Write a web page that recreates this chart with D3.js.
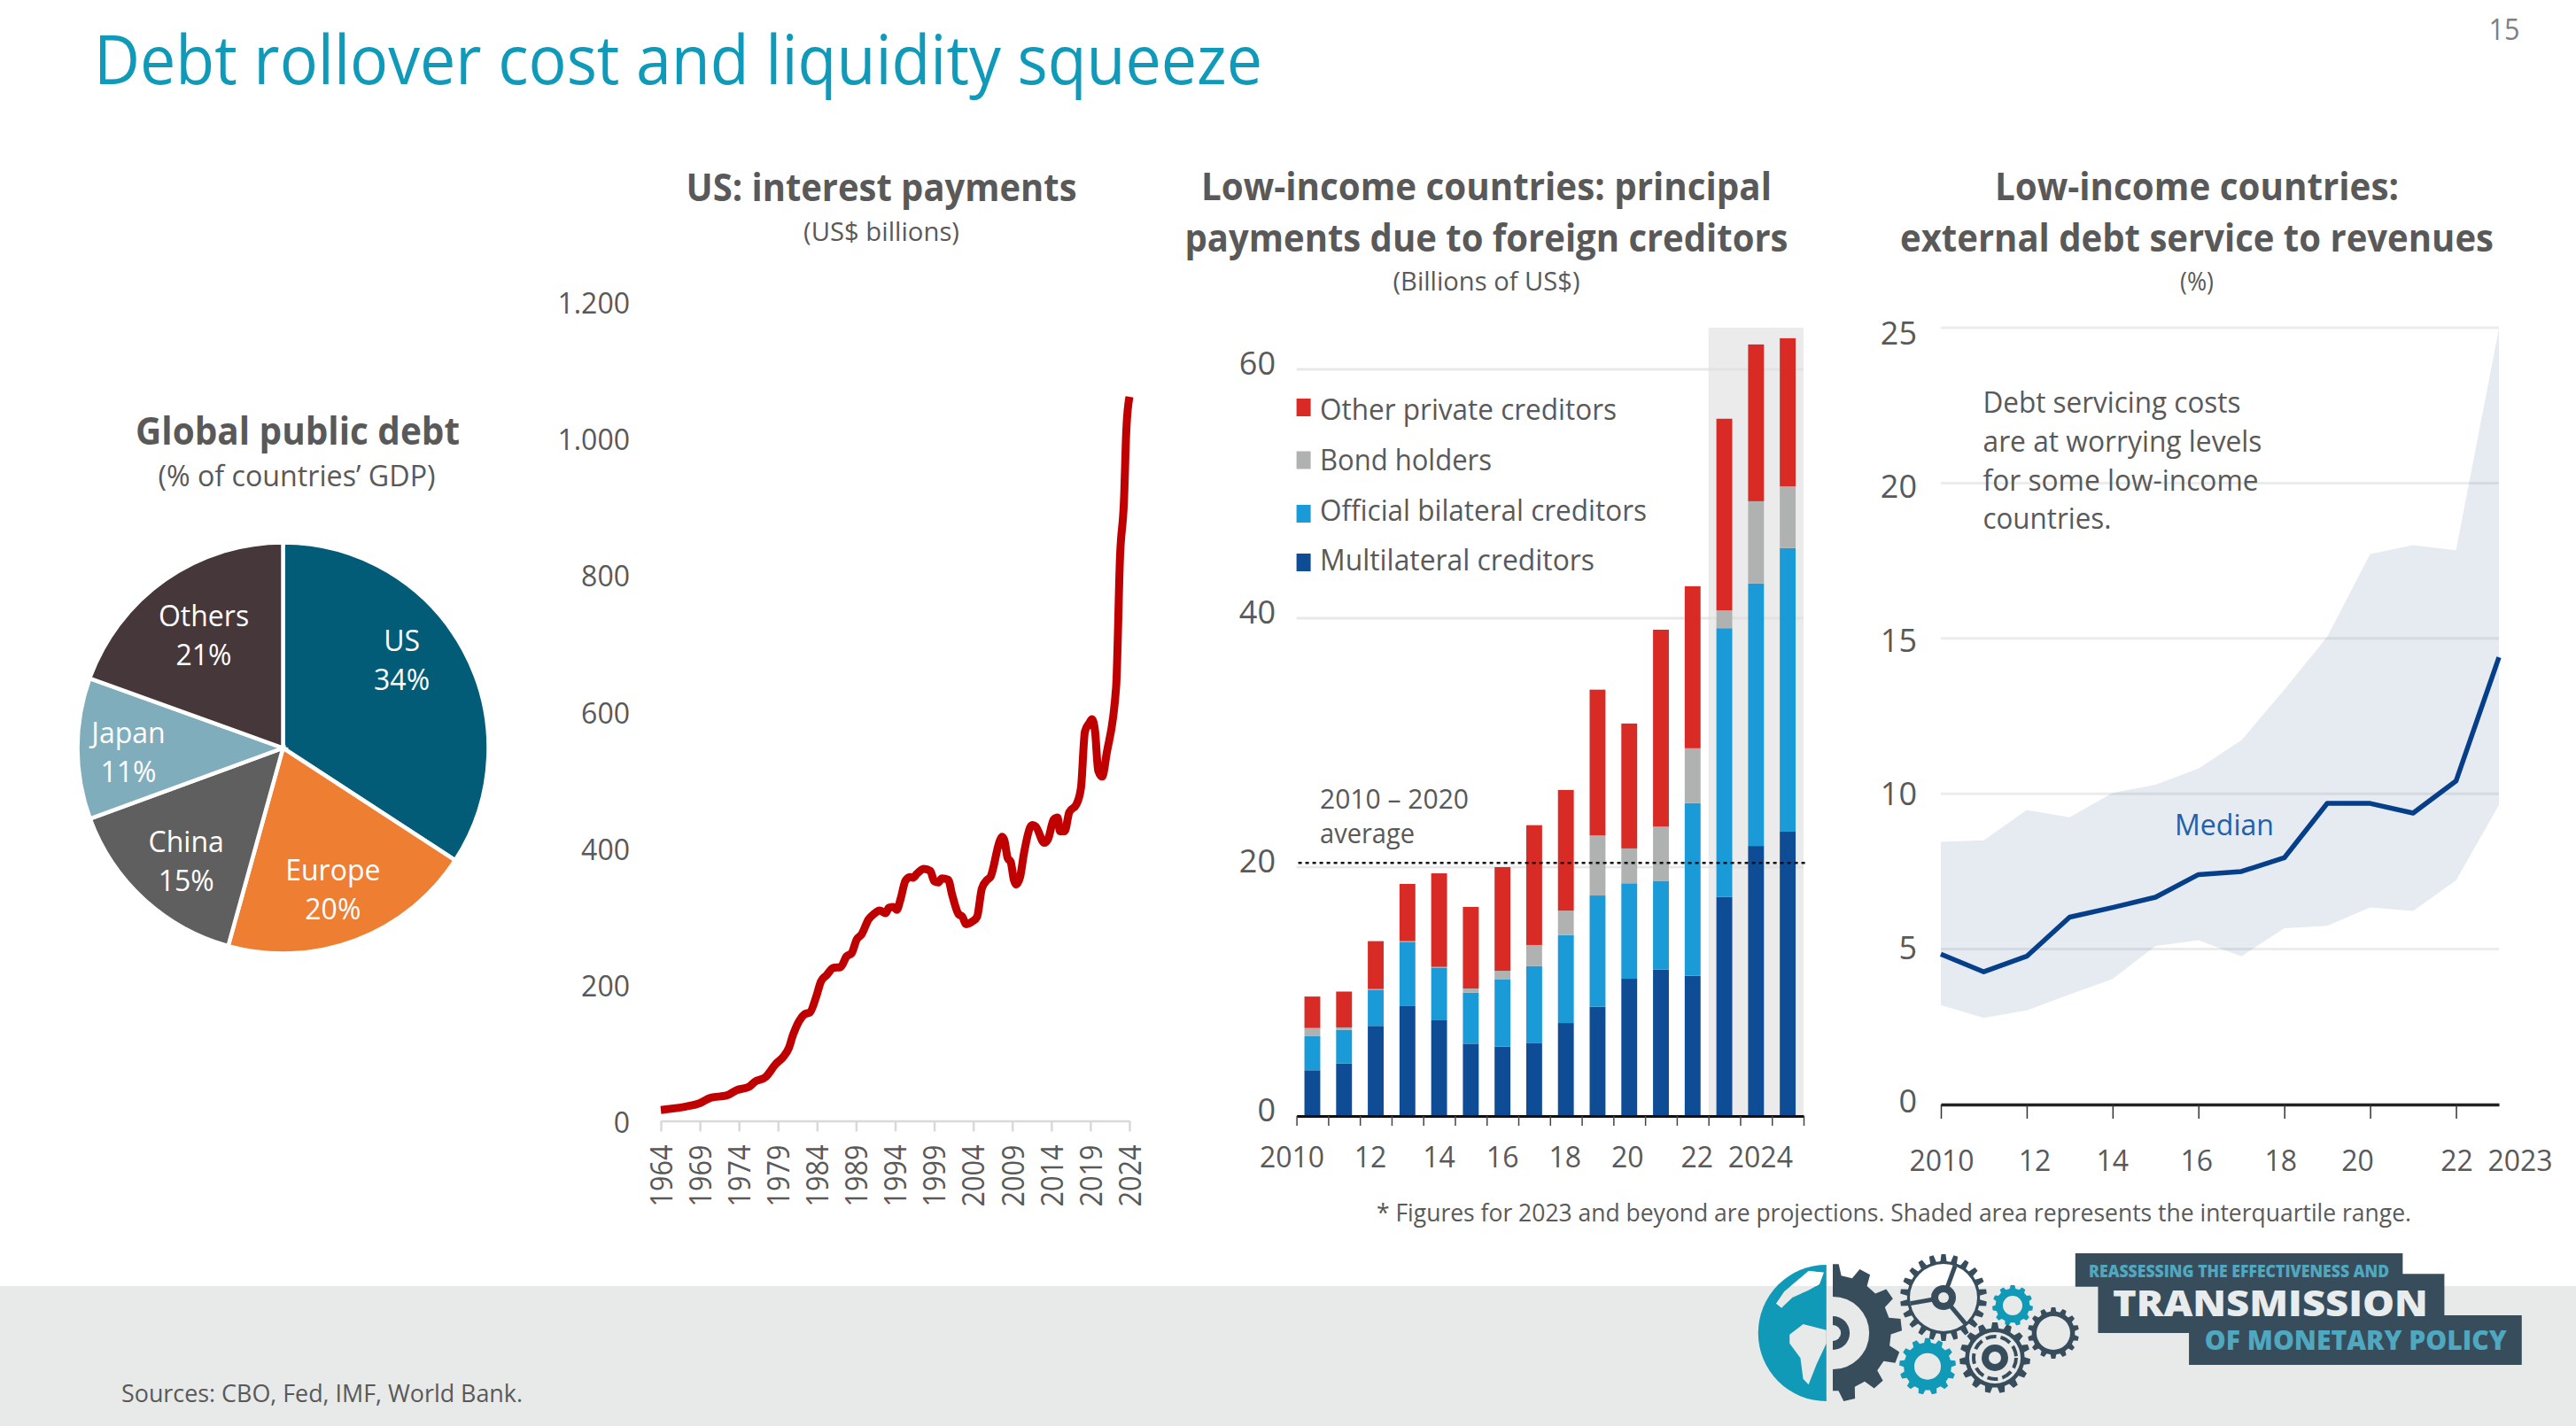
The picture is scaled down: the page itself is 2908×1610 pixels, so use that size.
<!DOCTYPE html>
<html><head><meta charset="utf-8">
<script src="https://cdn.jsdelivr.net/npm/d3@7/dist/d3.min.js"></script>
<style>html,body{margin:0;padding:0;background:#fff}svg{display:block}text{font-family:"Open Sans",sans-serif}</style>
</head><body><svg id="c" width="2908" height="1610"></svg>
<script>
// ---------- DATA ----------
const pieNames=["US","Europe","China","Japan","Others"];
const pieValues=[34.2,20.1,15.1,11.1,19.5];   // slice sizes as drawn
const pieLabels=["34%","20%","15%","11%","21%"]; // printed labels
const pieColors=["#035C77","#EE7E32","#5F5F5F","#80ADBC","#45373A"];

const interestYears=[1964,1967.2,1969,1970.4,1972.4,1973.7,1975.3,1976,1977.4,1978.7,1979.7,1980.4,1980.9,1981.7,1982.4,1983.1,1983.9,1984.5,1985.2,1986.1,1987,1987.8,1988.4,1989.1,1989.7,1990.6,1991.3,1992,1992.8,1993.2,1993.8,1994.2,1994.7,1995.3,1995.9,1996.3,1996.8,1997.7,1998.5,1999,1999.5,2000,2000.8,2001.3,2002.1,2002.6,2003.1,2003.9,2004.5,2005.1,2005.8,2006.2,2007.4,2007.7,2008,2008.4,2008.8,2009.2,2009.5,2010,2010.5,2011.3,2011.6,2012,2013.1,2013.6,2014.3,2014.8,2015.1,2015.7,2016.3,2017.2,2017.8,2018.3,2018.9,2019.2,2019.6,2020,2020.5,2021.1,2022.3,2022.8,2023.3,2023.6,2024];
const interestValues=[16,21,26,34,37,45,50,57,64,83,94,107,125,146,156,159,182,204,213,224,225,241,245,266,273,295,303,308,304,312,313,309,325,351,357,356,362,369,366,351,349,355,353,331,303,299,288,292,299,340,353,357,410,416,410,385,379,353,346,357,392,430,433,431,407,413,441,444,424,424,452,463,488,570,583,588,570,513,504,539,636,827,908,1011,1060];
const interestTicks=d3.range(1964,2025,5);

const barYears=d3.range(2010,2026);
const multilateral=[3.68,4.22,7.24,8.83,7.69,5.81,5.58,5.88,7.47,8.78,11.03,11.77,11.27,17.6,21.7,22.85];
const officialBilateral=[2.73,2.71,2.91,5.17,4.24,4.11,5.42,6.17,7.07,8.94,7.67,7.13,13.88,21.6,21.1,22.79];
const bondHolders=[0.66,0.19,0.05,0.05,0.05,0.33,0.67,1.69,1.96,4.82,2.8,4.35,4.4,1.44,6.6,4.96];
const otherPrivate=[2.53,2.88,3.85,4.6,7.52,6.55,8.33,9.63,9.7,11.72,10.04,15.83,13.02,15.39,12.6,11.9];
const barSeriesNames=["Multilateral creditors","Official bilateral creditors","Bond holders","Other private creditors"];
const barColors=["#0E4D96","#1A9BD7","#B0B2B1","#D92B26"];
const barTickYears=[2010,2012,2014,2016,2018,2020,2022,2024];
const barTickLabels=["2010","12","14","16","18","20","22","2024"];
const average2010to2020=20.33;

const serviceYears=d3.range(2010,2024);
const serviceMedian=[4.84,4.27,4.77,6.03,6.34,6.67,7.4,7.5,7.94,9.69,9.69,9.38,10.41,14.39];
const serviceUpper=[8.45,8.5,9.48,9.24,10.03,10.29,10.81,11.72,13.35,15.05,17.72,18.0,17.84,24.97];
const serviceLower=[3.2,2.79,3.03,3.54,4.04,5.1,5.29,4.77,5.67,5.75,6.34,6.23,7.21,9.64];
const serviceTickYears=[2010,2012,2014,2016,2018,2020,2022,2023];
const serviceTickLabels=["2010","12","14","16","18","20","22","2023"];

// ---------- HELPERS ----------
const svg=d3.select("#c");
const TXT="#595959";
function label(str,x,y,size,o={}){
  const t=svg.append("text").attr("x",x).attr("y",y+size*0.357).attr("font-size",size)
    .attr("fill",o.fill||TXT).attr("font-weight",o.weight||400).attr("text-anchor",o.anchor||"start").text(str);
  if(o.w) t.attr("textLength",o.w).attr("lengthAdjust","spacingAndGlyphs");
  return t;
}
function styleAxis(g,color,sw,size){
  g.selectAll("path.domain").attr("stroke",color).attr("stroke-width",sw);
  g.selectAll(".tick line").attr("stroke",color).attr("stroke-width",sw);
  g.selectAll(".tick text").attr("fill",TXT).attr("font-size",size).attr("font-family",'"Open Sans",sans-serif');
}
const dotThousands=d3.formatLocale({thousands:".",decimal:",",grouping:[3],currency:["",""]}).format(",");

// ---------- FOOTER + HEADINGS ----------
svg.append("rect").attr("x",0).attr("y",1452).attr("width",2908).attr("height",158).attr("fill","#E7EAE9");
label("Debt rollover cost and liquidity squeeze",106,68,76,{fill:"#0E9AB8",w:1319});
label("15",2827,34,32,{fill:"#7F7F7F",anchor:"middle",w:35});
label("Sources: CBO, Fed, IMF, World Bank.",137,1573,27,{w:453});

label("Global public debt",336,487,43,{weight:700,anchor:"middle",w:366});
label("(% of countries’ GDP)",335,538,32,{anchor:"middle",w:313});
label("US: interest payments",995,212,43,{weight:700,anchor:"middle",w:441});
label("(US$ billions)",995,261,30,{anchor:"middle",w:176});
label("Low-income countries: principal",1678,211,43,{weight:700,anchor:"middle",w:644});
label("payments due to foreign creditors",1678,269,43,{weight:700,anchor:"middle",w:681});
label("(Billions of US$)",1678,317,30,{anchor:"middle",w:211});
label("Low-income countries:",2480,211,43,{weight:700,anchor:"middle",w:456});
label("external debt service to revenues",2480,269,43,{weight:700,anchor:"middle",w:670});
label("(%)",2480,317,30,{anchor:"middle",w:38});
label("* Figures for 2023 and beyond are projections. Shaded area represents the interquartile range.",1554,1369,28,{w:1168});

// ---------- PIE ----------
{
  const cx=319.5,cy=844.5,R=232;
  const arcs=d3.pie().sort(null)(pieValues);
  const arc=d3.arc().innerRadius(0).outerRadius(R);
  const g=svg.append("g").attr("transform",`translate(${cx},${cy})`);
  g.selectAll("path").data(arcs).join("path").attr("d",arc)
    .attr("fill",(d,i)=>pieColors[i]).attr("stroke","#fff").attr("stroke-width",4.5);
  const labelArc=d3.arc().innerRadius(165).outerRadius(165);
  const nudge=[[-11,-20],[-2,6],[2.5,7],[-9.5,5],[5.4,8]];
  arcs.forEach((d,i)=>{
    const [x,y]=labelArc.centroid(d);
    label(pieNames[i],cx+x+nudge[i][0],cy+y+nudge[i][1]-22,32,{fill:"#fff",anchor:"middle"});
    label(pieLabels[i],cx+x+nudge[i][0],cy+y+nudge[i][1]+22,32,{fill:"#fff",anchor:"middle"});
  });
}

// ---------- US INTEREST ----------
{
  const x=d3.scaleLinear([1964,2024],[746,1275]);
  const y=d3.scaleLinear([0,1200],[1265.5,340]);
  const ax=svg.append("g").attr("transform","translate(0,1265.5)")
    .call(d3.axisBottom(x).tickValues(interestTicks).tickFormat(d3.format("d")).tickSize(12).tickSizeOuter(0));
  styleAxis(ax,"#D9D9D9",2.5,34);
  ax.selectAll(".tick text").attr("transform","rotate(-90)").attr("text-anchor","end")
    .attr("x",-27).attr("y",0).attr("dy","0.36em")
    .attr("textLength",70).attr("lengthAdjust","spacingAndGlyphs");
  const ay=svg.append("g").attr("transform","translate(711,3)")
    .call(d3.axisLeft(y).tickValues(d3.range(0,1201,200)).tickFormat(dotThousands).tickSize(0).tickPadding(0));
  ay.select("path.domain").remove();
  styleAxis(ay,"none",0,32);
  svg.append("path").datum(interestYears.map((t,i)=>[t,interestValues[i]]))
    .attr("d",d3.line().x(d=>x(d[0])).y(d=>y(d[1])).curve(d3.curveMonotoneX))
    .attr("fill","none").attr("stroke","#C00000").attr("stroke-width",9).attr("stroke-linejoin","round");
}

// ---------- PRINCIPAL BARS ----------
{
  const x0=1463.6,x1=2036;
  const band=d3.scaleBand(barYears,[x0,x1]).paddingInner(0.5).paddingOuter(0.25);
  const edge=d3.scaleLinear([2010,2026],[x0,x1]);
  const y=d3.scaleLinear([0,60],[1260,417]);
  svg.append("rect").attr("x",edge(2023)).attr("y",y(63.35)).attr("width",edge(2026)-edge(2023))
    .attr("height",y(0)-y(63.35)).attr("fill","#EBEBEB");
  svg.append("g").selectAll("line").data([20,40,60]).join("line")
    .attr("x1",x0).attr("x2",x1).attr("y1",d=>y(d)).attr("y2",d=>y(d))
    .attr("stroke","#DEDEDE").attr("stroke-opacity",0.7).attr("stroke-width",3);
  const rows=barYears.map((yr,i)=>({yr,a:multilateral[i],b:officialBilateral[i],c:bondHolders[i],d:otherPrivate[i]}));
  const stacked=d3.stack().keys(["a","b","c","d"])(rows);
  svg.append("g").selectAll("g").data(stacked).join("g").attr("fill",(d,i)=>barColors[i])
    .selectAll("rect").data(d=>d).join("rect")
    .attr("x",d=>band(d.data.yr)).attr("width",band.bandwidth())
    .attr("y",d=>y(d[1])).attr("height",d=>y(d[0])-y(d[1]));
  svg.append("line").attr("x1",x0+2).attr("x2",x1+3).attr("y1",y(average2010to2020)).attr("y2",y(average2010to2020))
    .attr("stroke","#111").attr("stroke-width",2.5).attr("stroke-dasharray","4 4");
  const ax=svg.append("g").attr("transform",`translate(0,${y(0)})`)
    .call(d3.axisBottom(edge).tickValues(d3.range(2010,2027)).tickFormat("").tickSize(11).tickSizeOuter(0));
  ax.selectAll(".tick line").attr("stroke","#444").attr("stroke-width",1.5);
  ax.select("path.domain").attr("stroke","#111").attr("stroke-width",3);
  const labelNudge={2010:-23,2012:-6,2014:0,2016:0,2018:-1,2020:-2,2022:5,2024:5};
  const lx=svg.append("g").attr("transform","translate(0,1306.5)")
    .call(d3.axisBottom(band).tickValues(barTickYears).tickFormat(d=>barTickLabels[barTickYears.indexOf(d)]).tickSize(0).tickPadding(0));
  lx.select("path.domain").remove();
  styleAxis(lx,"none",0,32);
  lx.selectAll(".tick").attr("transform",d=>`translate(${band(d)+band.bandwidth()/2+labelNudge[d]},0)`);
  lx.selectAll(".tick text").attr("y",0).attr("dy","0.36em");
  const ay=svg.append("g").attr("transform","translate(1440,-6.5)")
    .call(d3.axisLeft(y).tickValues([0,20,40,60]).tickSize(0).tickPadding(0));
  ay.select("path.domain").remove();
  styleAxis(ay,"none",0,36);
  const legendOrder=[3,2,1,0];
  const legendY=[460,519.5,580,635];
  const textY=[463,520,577.5,633.4];
  const lw=[335,194,369,310];
  legendOrder.forEach((k,i)=>{
    svg.append("rect").attr("x",1463.6).attr("y",legendY[i]-10).attr("width",16).attr("height",20).attr("fill",barColors[k]);
    label(barSeriesNames[k],1490,textY[i]-1,33,{w:lw[i]});
  });
  label("2010 – 2020",1490,902,31,{w:168});
  label("average",1490,941,31,{w:107});
}

// ---------- DEBT SERVICE ----------
{
  const x=d3.scaleLinear([2010,2023],[2191,2821]);
  const y=d3.scaleLinear([0,25],[1247,370]);
  const yLabels=d3.scaleLinear([0,25],[1243,376]);
  svg.append("g").selectAll("line").data([5,10,15,20,25]).join("line")
    .attr("x1",x(2010)).attr("x2",x(2023)).attr("y1",d=>y(d)).attr("y2",d=>y(d))
    .attr("stroke","#E4E4E4").attr("stroke-opacity",0.7).attr("stroke-width",3);
  svg.append("path").datum(serviceYears.map((t,i)=>[t,serviceUpper[i],serviceLower[i]]))
    .attr("d",d3.area().x(d=>x(d[0])).y0(d=>y(d[2])).y1(d=>y(d[1])))
    .attr("fill","#0B2E7A").attr("fill-opacity",0.1);
  svg.append("path").datum(serviceYears.map((t,i)=>[t,serviceMedian[i]]))
    .attr("d",d3.line().x(d=>x(d[0])).y(d=>y(d[1])))
    .attr("fill","none").attr("stroke","#053F8A").attr("stroke-width",5.5).attr("stroke-linejoin","round");
  const ax=svg.append("g").attr("transform",`translate(0,${y(0)})`)
    .call(d3.axisBottom(x).tickValues(serviceTickYears.slice(0,-1)).tickFormat("").tickSize(16).tickSizeOuter(0));
  ax.selectAll(".tick line").attr("stroke","#333").attr("stroke-width",1.5);
  ax.select("path.domain").attr("stroke","#222").attr("stroke-width",3.5);
  const labelNudge={2010:1,2012:9,2014:0,2016:-2,2018:-4,2020:-14,2022:1,2023:24};
  const lx=svg.append("g").attr("transform","translate(0,1310)")
    .call(d3.axisBottom(x).tickValues(serviceTickYears).tickFormat(d=>serviceTickLabels[serviceTickYears.indexOf(d)]).tickSize(0).tickPadding(0));
  lx.select("path.domain").remove();
  styleAxis(lx,"none",0,32);
  lx.selectAll(".tick").attr("transform",d=>`translate(${x(d)+labelNudge[d]},0)`);
  lx.selectAll(".tick text").attr("y",0).attr("dy","0.36em");
  const ay=svg.append("g").attr("transform","translate(2164,1)")
    .call(d3.axisLeft(yLabels).tickValues([0,5,10,15,20,25]).tickSize(0).tickPadding(0));
  ay.select("path.domain").remove();
  styleAxis(ay,"none",0,36);
  label("Median",2511,932,32,{fill:"#2460A7",anchor:"middle",w:112});
  [["Debt servicing costs",291,455],["are at worrying levels",315,499],["for some low-income",311,542.5],["countries.",145,586]]
    .forEach(r=>label(r[0],2238.5,r[2],32,{w:r[1]}));
}

// ---------- LOGO (decorative) ----------
{
  const zx=v=>1950+v/1.637, zy=v=>1400+v/3;
  const DARK="#374D5C",TEAL="#1199B8",BG="#E7EAE9",LT="#4FA8BF";
  const polyD=pts=>"M"+pts.map(p=>[zx(p[0]),zy(p[1])].join(",")).join("L")+"Z";
  const poly=(pts,fill)=>svg.append("path").attr("d",polyD(pts)).attr("fill",fill);
  poly([[643,45],[1248,45],[1248,115],[1325,115],[1325,255],[1468,255],[1468,423],[853,423],[853,315],[685,315],[685,158],[643,158]],DARK);
  label("REASSESSING THE EFFECTIVENESS AND",zx(668),zy(105),19,{fill:LT,weight:800,w:339});
  label("TRANSMISSION",zx(712),zy(215),41,{fill:"#E8ECEC",weight:800,w:356});
  label("OF MONETARY POLICY",zx(882),zy(340),30,{fill:LT,weight:800,w:341});
  function gear(cx,cy,R,n,fill,hole){
    const rr=R*0.84,pts=[],w=Math.PI/n*0.5;
    for(let i=0;i<n;i++){const a=i*2*Math.PI/n;
      pts.push([a-w*1.2,rr],[a-w*0.7,R],[a+w*0.7,R],[a+w*1.2,rr]);}
    let d=d3.lineRadial().angle(p=>p[0]).radius(p=>p[1]).curve(d3.curveLinearClosed)(pts);
    if(hole) d+=`M${hole},0A${hole},${hole},0,1,0,${-hole},0A${hole},${hole},0,1,0,${hole},0Z`;
    return svg.append("path").attr("d",d).attr("fill-rule","evenodd")
      .attr("transform",`translate(${cx},${cy})`).attr("fill",fill);
  }
  const disc=(cx,cy,r,f)=>svg.append("circle").attr("cx",cx).attr("cy",cy).attr("r",r).attr("fill",f);
  // globe half
  svg.append("path").attr("transform",`translate(${zx(183)},1505)`)
    .attr("d",d3.arc().innerRadius(0).outerRadius(77).startAngle(Math.PI).endAngle(2*Math.PI)()).attr("fill",TEAL);
  const nAm=[[105,175],[150,105],[178,110],[170,150],[150,170],[120,195],[100,230],[90,215]];
  poly(nAm,BG);
  svg.append("clipPath").attr("id","aboveBand").append("rect").attr("x",1950).attr("y",1400).attr("width",300).attr("height",52);
  poly(nAm,"#fff").attr("clip-path","url(#aboveBand)");
  poly([[115,320],[140,285],[183,305],[183,350],[165,420],[150,490],[140,470],[135,400],[115,350]],BG);
  // half gear
  svg.append("clipPath").attr("id","halfGear").append("rect").attr("x",zx(195)).attr("y",1420).attr("width",100).attr("height",170);
  const hg=svg.append("g").attr("clip-path","url(#halfGear)");
  hg.node().appendChild(gear(zx(195),1505,78,13,DARK).node());
  [[41,BG],[19,DARK],[9,BG]].forEach(r=>hg.node().appendChild(disc(zx(195),1505,r[0],r[1]).node()));
  // wheel gear
  gear(2194,1465,49,22,DARK,38);
  [20,140,260].forEach(a=>svg.append("line").attr("x1",2194).attr("y1",1465)
    .attr("x2",2194+38*Math.sin(a*Math.PI/180)).attr("y2",1465-38*Math.cos(a*Math.PI/180)).attr("stroke",DARK).attr("stroke-width",5));
  disc(2194,1465,14,DARK); disc(2194,1465,6,BG);
  gear(2272,1474,23,11,TEAL,11);
  gear(2318,1505,29,14,DARK,19);
  gear(2176,1542.7,32,13,TEAL,15);
  gear(2252,1533,40,15,DARK,29);
  svg.append("circle").attr("cx",2252).attr("cy",1533).attr("r",24).attr("fill","none").attr("stroke",DARK).attr("stroke-width",4).attr("stroke-dasharray","12 5");
  disc(2252,1533,15,DARK); disc(2252,1533,7,BG);
}
</script></body></html>
